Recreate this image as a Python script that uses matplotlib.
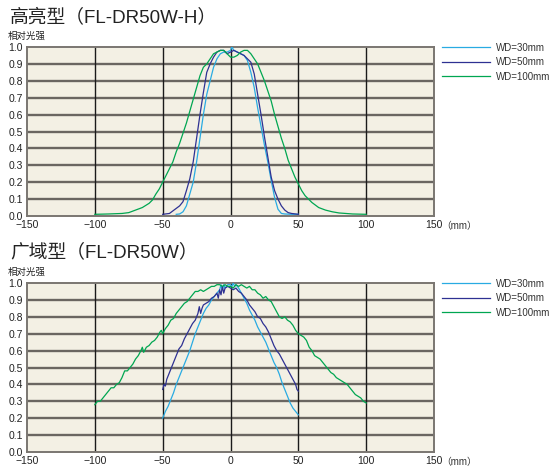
import matplotlib.pyplot as plt
import numpy as np

plt.rcParams['font.family'] = ['Liberation Sans', 'Noto Sans CJK SC', 'DejaVu Sans']

# ---- dati: pannello superiore (FL-DR50W-H) ----
h_x30 = [-40, -37.5, -35, -32.5, -30, -27.5, -25, -22.5, -20, -17.5, -15, -12.5, -10, -7.5, -5,
         -2.5, 0, 1, 2.5, 5, 7.5, 10, 12.5, 15, 17.5, 20, 22.5, 25, 27.5, 30, 32.5, 35, 37.5, 40,
         45, 50]
h_y30 = [0.01, 0.012, 0.025, 0.06, 0.13, 0.2, 0.32, 0.46, 0.6, 0.72, 0.8, 0.88, 0.93, 0.96, 0.97,
         0.97, 0.98, 1.0, 0.98, 0.97, 0.96, 0.95, 0.92, 0.85, 0.76, 0.64, 0.53, 0.42, 0.32, 0.21,
         0.11, 0.04, 0.015, 0.012, 0.01, 0.01]

h_x50 = [-50, -45, -42.5, -40, -37.5, -35, -32.5, -30, -27.5, -25, -22.5, -20, -17.5, -15, -12.5,
         -10, -7.5, -5, -2.5, 0, 2.5, 5, 7.5, 10, 12.5, 15, 17.5, 20, 22.5, 25, 27.5, 30, 32.5, 35,
         37.5, 40, 42.5, 45, 50]
h_y50 = [0.01, 0.015, 0.03, 0.045, 0.06, 0.085, 0.15, 0.22, 0.32, 0.46, 0.6, 0.73, 0.85, 0.9, 0.94,
         0.97, 0.98, 0.98, 0.96, 0.97, 0.98, 0.97, 0.96, 0.95, 0.93, 0.91, 0.84, 0.72, 0.6, 0.47,
         0.35, 0.23, 0.15, 0.1, 0.06, 0.035, 0.02, 0.015, 0.01]

h_x100 = [-100, -90, -80, -75, -70, -65, -60, -57.5, -55, -52.5, -50, -47.5, -45, -42.5, -40,
          -37.5, -35, -32.5, -30, -27.5, -25, -22.5, -20, -17.5, -15, -12.5, -10, -7.5, -5, -2.5,
          0, 2.5, 5, 7.5, 10, 12.5, 15, 17.5, 20, 22.5, 25, 27.5, 30, 32.5, 35, 37.5, 40, 42.5,
          45, 47.5, 50, 52.5, 55, 57.5, 60, 65, 70, 75, 80, 90, 100]
h_y100 = [0.01, 0.012, 0.015, 0.02, 0.035, 0.05, 0.075, 0.095, 0.13, 0.16, 0.2, 0.24, 0.28, 0.32,
          0.38, 0.43, 0.49, 0.55, 0.62, 0.69, 0.76, 0.83, 0.88, 0.9, 0.93, 0.96, 0.97, 0.98, 0.98,
          0.96, 0.94, 0.94, 0.95, 0.97, 0.98, 0.98, 0.96, 0.93, 0.9, 0.85, 0.8, 0.74, 0.68, 0.6,
          0.53, 0.46, 0.4, 0.33, 0.28, 0.23, 0.19, 0.15, 0.12, 0.1, 0.08, 0.05, 0.035, 0.025,
          0.018, 0.012, 0.01]

# ---- dati: pannello inferiore (FL-DR50W) ----
w_x30 = [-50, -48, -46, -44, -42, -40, -38, -36, -34, -32, -30, -28, -26, -24, -22, -20, -18, -16,
         -14, -12, -10, -8, -7, -6, -5, -4, -2, 0, 1, 2, 3, 4, 6, 8, 10, 12, 14, 16, 18, 20, 22,
         24, 26, 28, 30, 32, 34, 36, 38, 40, 42, 44, 46, 48, 50]
w_y30 = [0.2, 0.24, 0.27, 0.31, 0.35, 0.4, 0.44, 0.48, 0.52, 0.56, 0.6, 0.65, 0.7, 0.74, 0.78,
         0.82, 0.85, 0.87, 0.9, 0.92, 0.94, 0.96, 0.99, 0.96, 0.99, 0.97, 0.99, 0.99, 0.98, 1.0,
         0.98, 0.99, 0.97, 0.94, 0.91, 0.88, 0.84, 0.81, 0.78, 0.74, 0.71, 0.68, 0.65, 0.61, 0.57,
         0.53, 0.5, 0.46, 0.41, 0.37, 0.33, 0.29, 0.26, 0.24, 0.22]

w_x50 = [-50, -49, -48, -47, -46, -44, -42, -40, -38, -36, -34, -32, -30, -28, -26, -24, -23, -22,
         -21, -20, -18, -16, -14, -12, -10, -9, -8, -7, -6, -5, -4, -2, 0, 2, 4, 6, 8, 10, 12, 14,
         16, 18, 20, 22, 24, 26, 28, 30, 32, 34, 36, 38, 40, 42, 44, 46, 48, 49, 50]
w_y50 = [0.37, 0.4, 0.39, 0.43, 0.45, 0.49, 0.53, 0.57, 0.61, 0.63, 0.67, 0.7, 0.73, 0.76, 0.78,
         0.82, 0.86, 0.82, 0.85, 0.87, 0.88, 0.89, 0.91, 0.92, 0.94, 0.91, 0.96, 0.93, 0.98, 0.94,
         0.97, 0.98, 0.97, 0.96, 0.97, 0.95, 0.94, 0.92, 0.9, 0.87, 0.85, 0.83, 0.8, 0.79, 0.76,
         0.74, 0.71, 0.67, 0.63, 0.6, 0.58, 0.55, 0.52, 0.49, 0.46, 0.43, 0.4, 0.37, 0.36]

w_x100 = [-100, -98, -96, -94, -92, -90, -88, -86, -84, -82, -80, -78, -76, -74, -72, -70, -68, -66,
          -65, -64, -62, -60, -58, -56, -54, -52, -51, -50, -48, -46, -44, -42, -40, -38, -36, -34,
          -32, -30, -28, -26, -24, -22, -20, -18, -16, -14, -12, -10, -8, -6, -4, -2, 0, 2, 4, 6,
          8, 10, 12, 14, 16, 18, 20, 22, 24, 26, 28, 30, 32, 34, 36, 38, 40, 42, 44, 46, 48, 50,
          52, 54, 56, 58, 60, 62, 64, 66, 68, 70, 72, 74, 76, 78, 80, 82, 84, 86, 88, 90, 92, 94,
          96, 98, 100]
w_y100 = [0.28, 0.3, 0.3, 0.32, 0.34, 0.36, 0.38, 0.38, 0.4, 0.41, 0.44, 0.48, 0.48, 0.5, 0.52,
          0.55, 0.57, 0.6, 0.62, 0.59, 0.62, 0.63, 0.65, 0.66, 0.68, 0.71, 0.72, 0.7, 0.73, 0.75,
          0.78, 0.79, 0.82, 0.84, 0.86, 0.88, 0.89, 0.91, 0.93, 0.95, 0.95, 0.96, 0.95, 0.96, 0.97,
          0.98, 0.98, 0.99, 0.99, 0.98, 0.99, 0.98, 0.98, 0.97, 0.99, 0.98, 0.99, 0.98, 0.97, 0.98,
          0.96, 0.96, 0.94, 0.93, 0.91, 0.92, 0.9, 0.89, 0.86, 0.83, 0.8, 0.79, 0.8, 0.78, 0.77,
          0.75, 0.72, 0.7, 0.69, 0.68, 0.66, 0.62, 0.6, 0.57, 0.56, 0.55, 0.53, 0.51, 0.49, 0.47,
          0.46, 0.44, 0.43, 0.42, 0.41, 0.4, 0.38, 0.36, 0.34, 0.33, 0.32, 0.3, 0.29]

labels = ['WD=30mm', 'WD=50mm', 'WD=100mm']
colors = ['#29ABE2', '#2E3192', '#00A651']
x_ticks = [-150, -100, -50, 0, 50, 100, 150]
y_ticks = [0.0, 0.1, 0.2, 0.3, 0.4, 0.5, 0.6, 0.7, 0.8, 0.9, 1.0]

fig = plt.figure(figsize=(5.57, 4.70), dpi=100, facecolor='white')
ax_top = fig.add_axes([27 / 557, 1 - 216 / 470, 407 / 557, 169 / 470])
ax_bot = fig.add_axes([27 / 557, 1 - 452 / 470, 407 / 557, 169 / 470])

panels = [
    (ax_top, [(h_x30, h_y30), (h_x50, h_y50), (h_x100, h_y100)]),
    (ax_bot, [(w_x30, w_y30), (w_x50, w_y50), (w_x100, w_y100)]),
]

for ax, series in panels:
    ax.set_facecolor('#F3F0E4')
    ax.set_xlim(-150, 150)
    ax.set_ylim(0, 1.0)
    # griglia: orizzontali grigie spesse, verticali nere sottili
    for yv in y_ticks[1:-1]:
        ax.axhline(yv, color='#6A6661', lw=1.7, zorder=1)
    for xv in x_ticks[1:-1]:
        ax.axvline(xv, color='#1A1A1A', lw=1.0, zorder=1)
    for (xs, ys), c, lab in zip(series, colors, labels):
        ax.plot(xs, ys, color=c, lw=0.9, label=lab, zorder=3)
    for s in ax.spines.values():
        s.set_color('#7A7671')
        s.set_linewidth(1.4)
    ax.set_xticks(x_ticks)
    ax.set_xticklabels([f'{v}'.replace('-', '\u2212') for v in x_ticks])
    ax.set_yticks(y_ticks)
    ax.set_yticklabels([f'{v:.1f}' for v in y_ticks])
    ax.tick_params(length=0, labelsize=7.5, pad=3, colors='#222222')
    ax.legend(loc='upper left', bbox_to_anchor=(1 + 8 / 407, 1.025), frameon=False,
              fontsize=7, handlelength=4.9, handletextpad=0.7, labelspacing=0.45,
              borderpad=0, borderaxespad=0, labelcolor='#333333')

# titoli e etichette
fig.text(10 / 557, 1 - 22 / 470, '高亮型（FL-DR50W-H）', fontsize=13.5, va='baseline',
         color='#222222')
fig.text(10 / 557, 1 - 257 / 470, '广域型（FL-DR50W）', fontsize=13.5, va='baseline',
         color='#222222')
fig.text(8 / 557, 1 - 39 / 470, '相对光强', fontsize=6.8, va='baseline', color='#222222')
fig.text(8 / 557, 1 - 275 / 470, '相对光强', fontsize=6.8, va='baseline', color='#222222')
fig.text(441 / 557, 1 - 226 / 470, '（mm）', fontsize=7, va='center', color='#333333')
fig.text(441 / 557, 1 - 462 / 470, '（mm）', fontsize=7, va='center', color='#333333')

fig.savefig('out.png', dpi=100, facecolor='white')
